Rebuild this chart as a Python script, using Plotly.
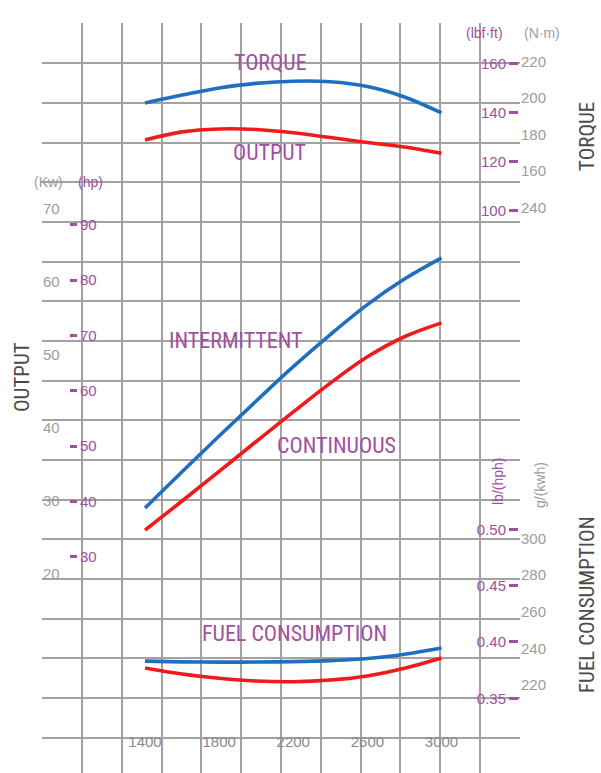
import plotly.graph_objects as go

W, H = 601, 773

# ---------------- data ----------------
rpm = [1400, 1600, 1800, 2000, 2200, 2400, 2600, 2800, 3000]
torque_upper_nm = [197.3, 201.6, 205.5, 208.0, 209.2, 208.9, 206.3, 200.6, 191.9]
torque_lower_nm = [177.1, 181.5, 183.1, 182.8, 181.0, 178.4, 175.7, 173.2, 169.8]
output_intermittent_kw = [28.95, 33.9, 38.8, 43.6, 48.3, 52.7, 56.8, 60.3, 63.2]
output_continuous_kw = [25.9, 29.9, 33.95, 38.05, 42.1, 46.05, 49.65, 52.4, 54.3]
fuel_upper_gkwh = [233.0, 232.6, 232.45, 232.5, 232.75, 233.3, 234.4, 236.8, 240.2]
fuel_lower_gkwh = [229.3, 226.0, 223.7, 222.2, 221.8, 222.7, 224.9, 229.1, 234.7]

rpm_ticks = [1400, 1800, 2200, 2600, 3000]
kw_ticks = [20, 30, 40, 50, 60, 70]
hp_ticks = [30, 40, 50, 60, 70, 80, 90]
nm_ticks = [220, 200, 180, 160, 140]
nm_ticktext = ["220", "200", "180", "160", "240"]
lbfft_ticks = [160, 140, 120, 100]
gkwh_ticks = [300, 280, 260, 240, 220]
lbhph_ticks = [0.50, 0.45, 0.40, 0.35]

# ---------------- style ----------------
BLUE = "#1f6fc1"
RED = "#f01a1a"
PURPLE = "#a0509f"
GRAY = "#9c9c9c"
DARK = "#4a4a4a"
GRID = "#a2a2a2"
NARROW = "Liberation Sans Narrow, Arial Narrow, Roboto Condensed, Roboto, sans-serif"
REG = "Liberation Sans, Arial, sans-serif"


def px(x):
    return x / W


def py(y):
    return 1 - y / H


XD = [px(42), px(520)]
YD = [0, py(23)]

fig = go.Figure()

line_w = 3.6
spl = dict(shape="spline", smoothing=1.0)
fig.add_trace(go.Scatter(x=rpm, y=torque_upper_nm, yaxis="y4", mode="lines",
                         line=dict(color=BLUE, width=line_w, **spl), showlegend=False))
fig.add_trace(go.Scatter(x=rpm, y=torque_lower_nm, yaxis="y4", mode="lines",
                         line=dict(color=RED, width=line_w, **spl), showlegend=False))
fig.add_trace(go.Scatter(x=rpm, y=output_intermittent_kw, yaxis="y", mode="lines",
                         line=dict(color=BLUE, width=line_w, **spl), showlegend=False))
fig.add_trace(go.Scatter(x=rpm, y=output_continuous_kw, yaxis="y", mode="lines",
                         line=dict(color=RED, width=line_w, **spl), showlegend=False))
fig.add_trace(go.Scatter(x=rpm, y=fuel_upper_gkwh, yaxis="y6", mode="lines",
                         line=dict(color=BLUE, width=line_w, **spl), showlegend=False))
fig.add_trace(go.Scatter(x=rpm, y=fuel_lower_gkwh, yaxis="y6", mode="lines",
                         line=dict(color=RED, width=line_w, **spl), showlegend=False))

# empty traces so that the label-only axes and grid axes are drawn
for ya in ["y3", "y5", "y7"]:
    fig.add_trace(go.Scatter(x=[], y=[], yaxis=ya, showlegend=False, hoverinfo="skip"))
fig.add_trace(go.Scatter(x=[], y=[], xaxis="x2", yaxis="y2", showlegend=False, hoverinfo="skip"))

num_font = dict(family=REG, size=15, color=GRAY)
pur_font = dict(family=REG, size=15, color=PURPLE)

common = dict(showgrid=False, zeroline=False, showline=False, fixedrange=True)

fig.update_layout(
    width=W, height=H,
    margin=dict(l=0, r=0, t=0, b=0),
    paper_bgcolor="white", plot_bgcolor="white",
    showlegend=False,
    xaxis=dict(domain=XD, range=[844.1, 3423.6], tickvals=rpm_ticks,
               anchor="free", position=py(731), side="bottom", ticks="",
               tickfont=dict(family=REG, size=15, color="#8a8a8a"), **common),
    # grid axes
    xaxis2=dict(domain=XD, range=[-0.006, 12.006], overlaying="x", anchor="y2",
                tickvals=list(range(13)), showgrid=True, gridcolor=GRID, gridwidth=2,
                showticklabels=False, ticks="", zeroline=False, showline=False),
    yaxis2=dict(domain=YD, range=[18.89, -0.02], overlaying="y", anchor="x2",
                tickvals=list(range(19)), showgrid=True, gridcolor=GRID, gridwidth=2,
                showticklabels=False, ticks="", zeroline=False, showline=False),
    # output kW
    yaxis=dict(domain=YD, range=[-7.36, 95.38], tickvals=kw_ticks,
               anchor="free", position=px(42), side="right", ticks="",
               tickfont=num_font, **common),
    # output hp
    yaxis3=dict(domain=YD, range=[-9.13, 126.5], tickvals=hp_ticks, overlaying="y",
                anchor="free", position=px(69), side="right", ticks="outside",
                ticklen=7, tickwidth=2.5, tickcolor=PURPLE,
                tickfont=pur_font, **common),
    # torque N·m
    yaxis4=dict(domain=YD, range=[-168.8, 241.0], tickvals=nm_ticks, ticktext=nm_ticktext,
                overlaying="y", anchor="free", position=px(520), side="right", ticks="",
                tickfont=num_font, **common),
    # torque lbf·ft
    yaxis5=dict(domain=YD, range=[-129.1, 176.4], tickvals=lbfft_ticks, overlaying="y",
                anchor="free", position=px(518), side="left", ticks="outside",
                ticklen=9, tickwidth=2.5, tickcolor=PURPLE,
                tickfont=pur_font, **common),
    # fuel g/kWh
    yaxis6=dict(domain=YD, range=[172.0, 581.0], tickvals=gkwh_ticks, overlaying="y",
                anchor="free", position=px(520), side="right", ticks="",
                tickfont=num_font, **common),
    # fuel lb/hph
    yaxis7=dict(domain=YD, range=[0.2837, 0.9494], tickvals=lbhph_ticks, tickformat=".2f",
                overlaying="y", anchor="free", position=px(518), side="left", ticks="outside",
                ticklen=9, tickwidth=2.5, tickcolor=PURPLE,
                tickfont=pur_font, **common),
)

ann = []


def add(text, x, y, font, angle=0, xanchor="center"):
    ann.append(dict(text=text, x=px(x), y=py(y), xref="paper", yref="paper",
                    showarrow=False, font=font, textangle=angle,
                    xanchor=xanchor, yanchor="middle"))


label_font = dict(family=NARROW, size=22, color=PURPLE)
title_font = dict(family=NARROW, size=21, color=DARK)

add("TORQUE", 270, 63, label_font)
add("OUTPUT", 269, 153, label_font)
add("INTERMITTENT", 235, 340, label_font)
add("CONTINUOUS", 337, 445, label_font)
add("FUEL CONSUMPTION", 294, 633, label_font)

add("OUTPUT", 22, 377, title_font, angle=-90)
add("TORQUE", 587, 137, title_font, angle=-90)
add("FUEL CONSUMPTION", 587, 605, title_font, angle=-90)

add("(Kw)", 48, 182, dict(family=REG, size=14, color=GRAY))
add("(hp)", 90, 182, dict(family=REG, size=14, color=PURPLE))
add("(lbf·ft)", 485, 33, dict(family=REG, size=14, color=PURPLE))
add("(N·m)", 542, 33, dict(family=REG, size=14, color=GRAY))
add("lb/(hph)", 498, 482, dict(family=REG, size=14, color=PURPLE), angle=-90)
add("g/(kwh)", 540, 485, dict(family=REG, size=14, color=GRAY), angle=-90)

fig.update_layout(annotations=ann)

# the page body gets no default margin, so the 601x773 figure fills the window exactly
fig.write_html("out.html", config={"displayModeBar": False},
               post_script="document.body.style.margin='0px';")
